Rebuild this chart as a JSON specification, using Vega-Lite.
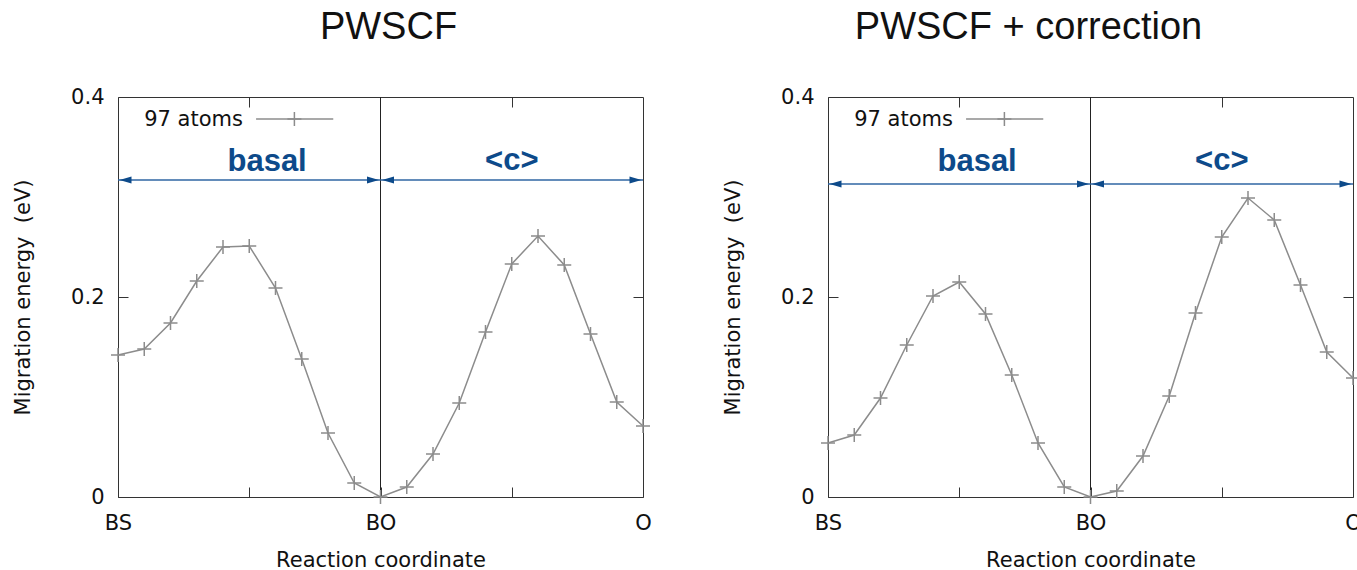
{
"$schema":"https://vega.github.io/schema/vega-lite/v6.json",
"padding":{"left":12,"top":8,"right":0,"bottom":0},
"spacing":68,
"datasets":{
 "pw":[{"x":0,"e":0.142},{"x":0.1,"e":0.148},{"x":0.2,"e":0.174},{"x":0.3,"e":0.216},{"x":0.4,"e":0.250},{"x":0.5,"e":0.251},{"x":0.6,"e":0.209},{"x":0.7,"e":0.138},{"x":0.8,"e":0.064},{"x":0.9,"e":0.014},{"x":1.0,"e":0.000},{"x":1.1,"e":0.010},{"x":1.2,"e":0.043},{"x":1.3,"e":0.094},{"x":1.4,"e":0.165},{"x":1.5,"e":0.233},{"x":1.6,"e":0.261},{"x":1.7,"e":0.232},{"x":1.8,"e":0.163},{"x":1.9,"e":0.095},{"x":2.0,"e":0.071}],
 "corr":[{"x":0,"e":0.054},{"x":0.1,"e":0.062},{"x":0.2,"e":0.099},{"x":0.3,"e":0.152},{"x":0.4,"e":0.201},{"x":0.5,"e":0.215},{"x":0.6,"e":0.183},{"x":0.7,"e":0.122},{"x":0.8,"e":0.054},{"x":0.9,"e":0.010},{"x":1.0,"e":0.000},{"x":1.1,"e":0.006},{"x":1.2,"e":0.041},{"x":1.3,"e":0.101},{"x":1.4,"e":0.184},{"x":1.5,"e":0.260},{"x":1.6,"e":0.299},{"x":1.7,"e":0.277},{"x":1.8,"e":0.212},{"x":1.9,"e":0.145},{"x":2.0,"e":0.119}],
 "arrL":[{"x":0,"x2":1,"y":0.317},{"x":1,"x2":2,"y":0.317}],
 "headL":[{"x":0,"y":0.317,"d":"l"},{"x":1,"y":0.317,"d":"r"},{"x":1,"y":0.317,"d":"l"},{"x":2,"y":0.317,"d":"r"}],
 "arrR":[{"x":0,"x2":1,"y":0.313},{"x":1,"x2":2,"y":0.313}],
 "headR":[{"x":0,"y":0.313,"d":"l"},{"x":1,"y":0.313,"d":"r"},{"x":1,"y":0.313,"d":"l"},{"x":2,"y":0.313,"d":"r"}],
 "lab":[{"x":0.568,"y":0.326,"t":"basal"},{"x":1.5,"y":0.327,"t":"<c>"}],
 "leg":[{"x":0.476,"y":0.377,"t":"97 atoms"}],
 "legline":[{"x":0.526,"x2":0.82,"y":0.378}],
 "legpt":[{"x":0.672,"y":0.378}]
},
"hconcat":[
{
"width":525,"height":400,
"title":{"text":"PWSCF","baseline":"alphabetic","offset":9,"frame":"group","dx":8},
"resolve":{"axis":{"x":"independent","y":"independent"}},
"layer":[
 {"data":{"values":[{"x":1}]},"mark":{"type":"rule","color":"#222","strokeWidth":1},
  "encoding":{
   "x":{"field":"x","type":"quantitative","scale":{"domain":[0,2],"nice":false,"zero":false},
        "axis":{"orient":"bottom","values":[0,0.5,1,1.5,2],"labelExpr":"datum.value==0?'BS':datum.value==1?'BO':datum.value==2?'O':''","tickSize":-10,"labelPadding":25,"labelFlush":false,"labelOverlap":false,"title":"Reaction coordinate","titlePadding":16}},
   "y":{"datum":0,"type":"quantitative","scale":{"domain":[0,0.4],"nice":false},
        "axis":{"orient":"left","values":[0,0.2,0.4],"labelExpr":"datum.value==0?'0':format(datum.value,'.1f')","tickSize":-10,"labelPadding":24,"labelOverlap":false,"title":"Migration energy\u00a0 (eV)","titlePadding":37}},
   "y2":{"datum":0.4}}},
 {"data":{"name":"pw"},"mark":{"type":"line","color":"#8c8c8c","strokeWidth":1.5},
  "encoding":{
   "x":{"field":"x","type":"quantitative","axis":{"orient":"top","values":[0.5,1.5],"labels":false,"tickSize":-10,"title":null}},
   "y":{"field":"e","type":"quantitative","axis":{"orient":"right","values":[0.2],"labels":false,"tickSize":-10,"title":null}}}},
 {"data":{"name":"pw"},"mark":{"type":"point","shape":"M -1 0 L 1 0 M 0 -1 L 0 1","size":196,"filled":false,"color":"#8c8c8c","strokeWidth":1.5,"opacity":1},
  "encoding":{"x":{"field":"x","type":"quantitative","axis":null},"y":{"field":"e","type":"quantitative","axis":null}}},
 {"data":{"name":"arrL"},"mark":{"type":"rule","color":"#2f66a3","strokeWidth":1.5},
  "encoding":{"x":{"field":"x","type":"quantitative","axis":null},"x2":{"field":"x2"},"y":{"field":"y","type":"quantitative","axis":null}}},
 {"data":{"name":"headL"},"mark":{"type":"point","filled":true,"size":36,"color":"#0d4a8a","opacity":1,"strokeWidth":0},
  "encoding":{"x":{"field":"x","type":"quantitative","axis":null},"y":{"field":"y","type":"quantitative","axis":null},
   "shape":{"field":"d","type":"nominal","scale":{"domain":["l","r"],"range":["M 0.5 0 L 4.5 -1.2 L 4.5 1.2 Z","M -0.5 0 L -4.5 -1.2 L -4.5 1.2 Z"]},"legend":null}}},
 {"data":{"name":"lab"},"mark":{"type":"text","font":"Liberation Sans","fontWeight":"bold","fontSize":31,"color":"#0d4a8a","align":"center","baseline":"alphabetic"},
  "encoding":{"x":{"field":"x","type":"quantitative","axis":null},"y":{"field":"y","type":"quantitative","axis":null},"text":{"field":"t"}}},
 {"data":{"name":"leg"},"mark":{"type":"text","font":"DejaVu Sans","fontSize":21,"color":"#111","align":"right","baseline":"middle"},
  "encoding":{"x":{"field":"x","type":"quantitative","axis":null},"y":{"field":"y","type":"quantitative","axis":null},"text":{"field":"t"}}},
 {"data":{"name":"legline"},"mark":{"type":"rule","color":"#8c8c8c","strokeWidth":1.5},
  "encoding":{"x":{"field":"x","type":"quantitative","axis":null},"x2":{"field":"x2"},"y":{"field":"y","type":"quantitative","axis":null}}},
 {"data":{"name":"legpt"},"mark":{"type":"point","shape":"M -1 0 L 1 0 M 0 -1 L 0 1","size":196,"filled":false,"color":"#8c8c8c","strokeWidth":1.5,"opacity":1},
  "encoding":{"x":{"field":"x","type":"quantitative","axis":null},"y":{"field":"y","type":"quantitative","axis":null}}}
]
},
{
"width":525,"height":400,
"title":{"text":"PWSCF + correction","baseline":"alphabetic","offset":9,"frame":"group","dx":-62},
"resolve":{"axis":{"x":"independent","y":"independent"}},
"layer":[
 {"data":{"values":[{"x":1}]},"mark":{"type":"rule","color":"#222","strokeWidth":1},
  "encoding":{
   "x":{"field":"x","type":"quantitative","scale":{"domain":[0,2],"nice":false,"zero":false},
        "axis":{"orient":"bottom","values":[0,0.5,1,1.5,2],"labelExpr":"datum.value==0?'BS':datum.value==1?'BO':datum.value==2?'O':''","tickSize":-10,"labelPadding":25,"labelFlush":false,"labelOverlap":false,"title":"Reaction coordinate","titlePadding":16}},
   "y":{"datum":0,"type":"quantitative","scale":{"domain":[0,0.4],"nice":false},
        "axis":{"orient":"left","values":[0,0.2,0.4],"labelExpr":"datum.value==0?'0':format(datum.value,'.1f')","tickSize":-10,"labelPadding":24,"labelOverlap":false,"title":"Migration energy\u00a0 (eV)","titlePadding":37}},
   "y2":{"datum":0.4}}},
 {"data":{"name":"corr"},"mark":{"type":"line","color":"#8c8c8c","strokeWidth":1.5},
  "encoding":{
   "x":{"field":"x","type":"quantitative","axis":{"orient":"top","values":[0.5,1.5],"labels":false,"tickSize":-10,"title":null}},
   "y":{"field":"e","type":"quantitative","axis":{"orient":"right","values":[0.2],"labels":false,"tickSize":-10,"title":null}}}},
 {"data":{"name":"corr"},"mark":{"type":"point","shape":"M -1 0 L 1 0 M 0 -1 L 0 1","size":196,"filled":false,"color":"#8c8c8c","strokeWidth":1.5,"opacity":1},
  "encoding":{"x":{"field":"x","type":"quantitative","axis":null},"y":{"field":"e","type":"quantitative","axis":null}}},
 {"data":{"name":"arrR"},"mark":{"type":"rule","color":"#2f66a3","strokeWidth":1.5},
  "encoding":{"x":{"field":"x","type":"quantitative","axis":null},"x2":{"field":"x2"},"y":{"field":"y","type":"quantitative","axis":null}}},
 {"data":{"name":"headR"},"mark":{"type":"point","filled":true,"size":36,"color":"#0d4a8a","opacity":1,"strokeWidth":0},
  "encoding":{"x":{"field":"x","type":"quantitative","axis":null},"y":{"field":"y","type":"quantitative","axis":null},
   "shape":{"field":"d","type":"nominal","scale":{"domain":["l","r"],"range":["M 0.5 0 L 4.5 -1.2 L 4.5 1.2 Z","M -0.5 0 L -4.5 -1.2 L -4.5 1.2 Z"]},"legend":null}}},
 {"data":{"name":"lab"},"mark":{"type":"text","font":"Liberation Sans","fontWeight":"bold","fontSize":31,"color":"#0d4a8a","align":"center","baseline":"alphabetic"},
  "encoding":{"x":{"field":"x","type":"quantitative","axis":null},"y":{"field":"y","type":"quantitative","axis":null},"text":{"field":"t"}}},
 {"data":{"name":"leg"},"mark":{"type":"text","font":"DejaVu Sans","fontSize":21,"color":"#111","align":"right","baseline":"middle"},
  "encoding":{"x":{"field":"x","type":"quantitative","axis":null},"y":{"field":"y","type":"quantitative","axis":null},"text":{"field":"t"}}},
 {"data":{"name":"legline"},"mark":{"type":"rule","color":"#8c8c8c","strokeWidth":1.5},
  "encoding":{"x":{"field":"x","type":"quantitative","axis":null},"x2":{"field":"x2"},"y":{"field":"y","type":"quantitative","axis":null}}},
 {"data":{"name":"legpt"},"mark":{"type":"point","shape":"M -1 0 L 1 0 M 0 -1 L 0 1","size":196,"filled":false,"color":"#8c8c8c","strokeWidth":1.5,"opacity":1},
  "encoding":{"x":{"field":"x","type":"quantitative","axis":null},"y":{"field":"y","type":"quantitative","axis":null}}}
]
}
],
"config":{
 "view":{"stroke":"#333","strokeWidth":1},
 "axis":{"labelFont":"DejaVu Sans","titleFont":"DejaVu Sans","labelFontSize":21,"titleFontSize":21,"titleFontWeight":"normal","labelColor":"#111","titleColor":"#111","tickColor":"#333","grid":false,"domain":false},
 "title":{"font":"Liberation Sans","fontSize":38,"fontWeight":"normal","color":"#111","anchor":"middle"}
}
}
